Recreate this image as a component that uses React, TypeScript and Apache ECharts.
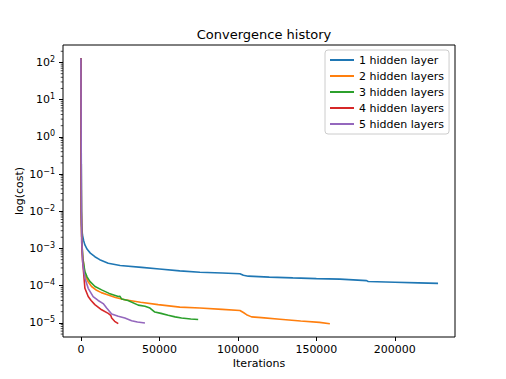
import React, { useEffect, useRef } from "react";
import * as echarts from "echarts";

const seriesNames = ["1 hidden layer", "2 hidden layers", "3 hidden layers", "4 hidden layers", "5 hidden layers"];
const colors = ["#1f77b4", "#ff7f0e", "#2ca02c", "#d62728", "#9467bd"];

// [iteration, cost]
const layer1 = [
  [0, 130], [150, 3], [300, 0.03], [450, 4.3e-3], [1000, 2.3e-3], [1800, 1.6e-3], [2550, 1.24e-3],
  [4000, 9.5e-4], [6000, 7.5e-4], [8900, 6e-4], [12000, 5e-4], [17400, 4e-4], [25000, 3.5e-4],
  [38700, 3.1e-4], [50000, 2.8e-4], [63000, 2.5e-4], [75800, 2.3e-4], [90000, 2.2e-4], [101300, 2.1e-4],
  [103500, 1.9e-4], [106600, 1.8e-4], [120000, 1.7e-4], [135000, 1.62e-4], [150000, 1.55e-4],
  [165000, 1.5e-4], [182000, 1.37e-4], [183000, 1.3e-4], [200000, 1.24e-4], [215000, 1.19e-4], [227500, 1.15e-4],
];
const layer2 = [
  [0, 130], [150, 2], [300, 0.01], [600, 1.5e-3], [1200, 6e-4], [2550, 1.95e-4], [4500, 1.3e-4],
  [6800, 9.5e-5], [10000, 7.5e-5], [13000, 6.5e-5], [17400, 5.6e-5], [22000, 4.8e-5], [28000, 4.2e-5],
  [38000, 3.6e-5], [49200, 3.1e-5], [63000, 2.65e-5], [75800, 2.5e-5], [90000, 2.3e-5], [101300, 2.15e-5],
  [103500, 1.9e-5], [105500, 1.66e-5], [108700, 1.45e-5], [115000, 1.38e-5], [126800, 1.25e-5],
  [140000, 1.12e-5], [152000, 1.03e-5], [158600, 9.5e-6],
];
const layer3 = [
  [0, 130], [150, 2], [300, 0.01], [600, 1.5e-3], [1200, 5.5e-4], [2550, 2.4e-4], [4000, 1.7e-4],
  [5700, 1.3e-4], [9000, 9.5e-5], [13200, 7.7e-5], [18000, 6.2e-5], [23800, 5.1e-5], [24800, 5.2e-5],
  [25900, 4.4e-5], [30000, 4e-5], [36500, 3e-5], [40800, 2.8e-5], [44000, 2.5e-5], [47100, 1.95e-5],
  [51000, 1.8e-5], [55600, 1.6e-5], [60000, 1.45e-5], [64100, 1.35e-5], [70000, 1.27e-5], [74700, 1.23e-5],
];
const layer4 = [
  [0, 130], [100, 5], [250, 0.01], [500, 1.5e-3], [1000, 5e-4], [1500, 2.9e-4], [2550, 8.5e-5],
  [4650, 5.1e-5], [6500, 4e-5], [8900, 3.1e-5], [13200, 2.25e-5], [17400, 1.8e-5], [19000, 1.6e-5],
  [19600, 1.35e-5], [21500, 1.1e-5], [23800, 9.5e-6],
];
const layer5 = [
  [0, 130], [150, 2], [300, 0.01], [600, 1.5e-3], [1200, 4e-4], [2550, 1.6e-4], [4650, 8.5e-5],
  [7800, 5.1e-5], [11000, 4e-5], [14200, 3.3e-5], [16400, 2.5e-5], [19600, 1.73e-5], [23800, 1.5e-5],
  [28000, 1.35e-5], [32300, 1.14e-5], [36000, 1.05e-5], [40800, 9.9e-6],
];
const allSeries = [layer1, layer2, layer3, layer4, layer5];

const xTicks = [0, 50000, 100000, 150000, 200000];
const yTicks = [1e-5, 1e-4, 1e-3, 1e-2, 1e-1, 1, 10, 100];

const X_MIN = -11400;
const X_MAX = 238300;
const Y_MIN = Math.pow(10, -5.38);
const Y_MAX = Math.pow(10, 2.47);

// minor log ticks (2..9 x 10^e) inside the axis range
const yMinorTicks: number[] = [];
for (let e = -6; e <= 2; e++) {
  for (let m = 2; m <= 9; m++) {
    const v = Number((m * Math.pow(10, e)).toPrecision(3));
    if (v >= Y_MIN && v <= Y_MAX) yMinorTicks.push(v);
  }
}

const FONT = "DejaVu Sans";

function supLabel(v: number): string {
  const e = Math.round(Math.log10(v));
  const s = e < 0 ? "\u2212" + String(-e) : String(e);
  return "{b|10}{s|" + s + "}";
}

export default function App() {
  const ref = useRef<HTMLDivElement>(null);
  useEffect(() => {
    if (!ref.current) return;
    const chart = echarts.init(ref.current, null, { renderer: "svg" });
    const tickStyle = { color: "#000", width: 1 };
    const lineSeries = allSeries.map((d, i) => ({
      name: seriesNames[i],
      type: "line",
      data: d,
      symbol: "none",
      showSymbol: false,
      color: colors[i],
      lineStyle: { color: colors[i], width: 1.6 },
      z: 2 + i,
    }));
    const minorTickSeries = {
      type: "custom",
      silent: true,
      clip: false,
      z: 10,
      data: yMinorTicks.map((v) => [X_MIN, v]),
      renderItem: (params: any, api: any) => {
        const p = api.coord([api.value(0), api.value(1)]);
        return {
          type: "line",
          shape: { x1: p[0] - 2.3, y1: p[1], x2: p[0], y2: p[1] },
          style: { stroke: "#000", lineWidth: 0.7 },
        };
      },
    };
    chart.setOption({
      animation: false,
      backgroundColor: "#fff",
      title: {
        text: "Convergence history",
        left: 259,
        top: 23,
        textAlign: "center",
        textStyle: { fontFamily: FONT, fontSize: 13, fontWeight: "normal", color: "#000" },
      },
      legend: {
        left: 325,
        top: 50,
        orient: "vertical",
        data: seriesNames,
        itemWidth: 24,
        itemHeight: 2,
        itemGap: 4,
        padding: [4, 5, 4, 4],
        backgroundColor: "rgba(255,255,255,0.8)",
        borderColor: "#cccccc",
        borderWidth: 1,
        borderRadius: 3,
        itemStyle: { opacity: 0 },
        textStyle: { fontFamily: FONT, fontSize: 11, color: "#000", lineHeight: 12 },
      },
      grid: {
        left: 63,
        right: 51,
        top: 45,
        bottom: 42,
        show: true,
        borderColor: "#000",
        borderWidth: 1,
        backgroundColor: "transparent",
      },
      xAxis: {
        type: "value",
        min: X_MIN,
        max: X_MAX,
        name: "Iterations",
        nameLocation: "middle",
        nameGap: 21,
        nameMoveOverlap: false,
        nameTextStyle: { fontFamily: FONT, fontSize: 11, color: "#000" },
        axisLine: { show: false, onZero: false },
        splitLine: { show: false },
        axisTick: { show: true, length: 4, lineStyle: tickStyle, customValues: xTicks },
        axisLabel: {
          customValues: xTicks,
          margin: 7,
          fontFamily: FONT,
          fontSize: 11,
          color: "#000",
          formatter: (v: number) => String(v),
        },
      },
      yAxis: {
        type: "log",
        logBase: 10,
        min: Y_MIN,
        max: Y_MAX,
        name: "log(cost)",
        nameLocation: "middle",
        nameGap: 38,
        nameMoveOverlap: false,
        nameTextStyle: { fontFamily: FONT, fontSize: 11, color: "#000" },
        axisLine: { show: false, onZero: false },
        splitLine: { show: false },
        axisTick: { show: true, length: 4, lineStyle: tickStyle, customValues: yTicks },
        axisLabel: {
          customValues: yTicks,
          showMinLabel: true,
          showMaxLabel: true,
          margin: 8,
          formatter: (v: number) => supLabel(v),
          rich: {
            b: { fontFamily: FONT, fontSize: 11, color: "#000", lineHeight: 14 },
            s: { fontFamily: FONT, fontSize: 8, color: "#000", lineHeight: 8, verticalAlign: "top" },
          },
        },
      },
      series: [...lineSeries, minorTickSeries],
    });
    return () => chart.dispose();
  }, []);
  return (
    <div
      ref={ref}
      style={{ position: "fixed", left: 0, top: 0, width: 506, height: 379, background: "#fff" }}
    />
  );
}
